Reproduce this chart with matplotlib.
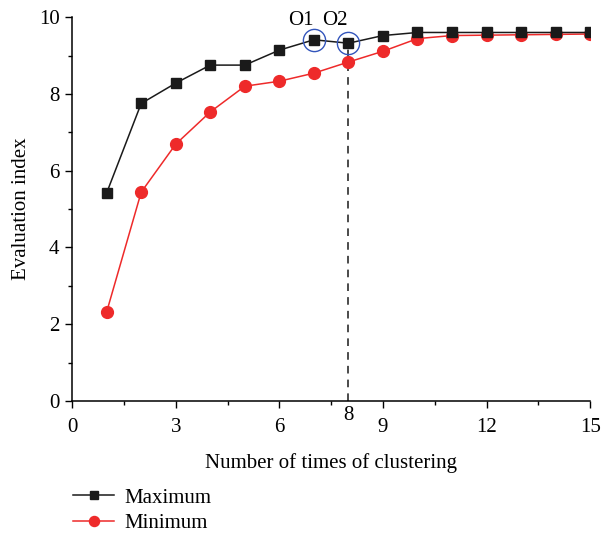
import matplotlib.pyplot as plt
from matplotlib.ticker import MultipleLocator

plt.rcParams['font.family'] = ['Liberation Serif', 'DejaVu Serif']

clusters = [1, 2, 3, 4, 5, 6, 7, 8, 9, 10, 11, 12, 13, 14, 15]
maximum = [5.42, 7.75, 8.28, 8.75, 8.75, 9.14, 9.41, 9.32, 9.52, 9.60, 9.60, 9.60, 9.60, 9.60, 9.60]
minimum = [2.32, 5.44, 6.69, 7.53, 8.20, 8.33, 8.54, 8.83, 9.11, 9.44, 9.52, 9.53, 9.54, 9.55, 9.56]
x_ticks = [0, 3, 6, 9, 12, 15]
y_ticks = [0, 2, 4, 6, 8, 10]
marked_x = [7, 8]
marked_names = ['O1', 'O2']

fig = plt.figure(figsize=(6.01, 5.35), dpi=100)
ax = fig.add_axes([0.12, 0.2505, 0.862, 0.7175])

ax.plot(clusters, maximum, color='#1a1a1a', lw=1.1, marker='s', ms=7,
        mfc='#1a1a1a', mec='#1a1a1a', label='Maximum', zorder=3)
ax.plot(clusters, minimum, color='#ee2a2a', lw=1.1, marker='o', ms=8.5,
        mfc='#ee2a2a', mec='#ee2a2a', label='Minimum', zorder=2)

# highlighted points on the maximum curve
for xv, name in zip(marked_x, marked_names):
    yv = maximum[clusters.index(xv)]
    ax.plot(xv, yv, marker='o', ms=16, mfc='none', mec='#3355bb', mew=1.0, zorder=4)
ax.text(6.62, 9.66, 'O1', fontsize=15, ha='center', va='bottom')
ax.text(7.6, 9.66, 'O2', fontsize=15, ha='center', va='bottom')

# vertical reference at the chosen clustering count
x8 = marked_x[1]
ax.plot([x8, x8], [0, maximum[clusters.index(x8)]], color='#1a1a1a',
        lw=1.1, ls=(0, (5, 4)), zorder=1)
ax.text(x8, -0.12, '8', fontsize=15, ha='center', va='top')

ax.set_xlim(0, 15)
ax.set_ylim(0, 10)
ax.set_xticks(x_ticks)
ax.set_yticks(y_ticks)
ax.xaxis.set_minor_locator(MultipleLocator(1.5))
ax.yaxis.set_minor_locator(MultipleLocator(1))
ax.tick_params(which='major', direction='out', length=5, width=1, labelsize=15, pad=7)
ax.tick_params(which='minor', direction='out', length=3, width=1)
ax.tick_params(axis='y', pad=4)
for s in ['top', 'right']:
    ax.spines[s].set_visible(False)
for s in ['left', 'bottom']:
    ax.spines[s].set_linewidth(1.1)

ax.set_xlabel('Number of times of clustering', fontsize=15, labelpad=12)
ax.set_ylabel('Evaluation index', fontsize=15, labelpad=6)

ax.legend(loc='upper left', bbox_to_anchor=(-0.035, -0.178), frameon=False,
          fontsize=15, handlelength=2.0, labelspacing=0.3, handletextpad=0.5,
          markerscale=0.85)

fig.savefig('out.png', dpi=100)
